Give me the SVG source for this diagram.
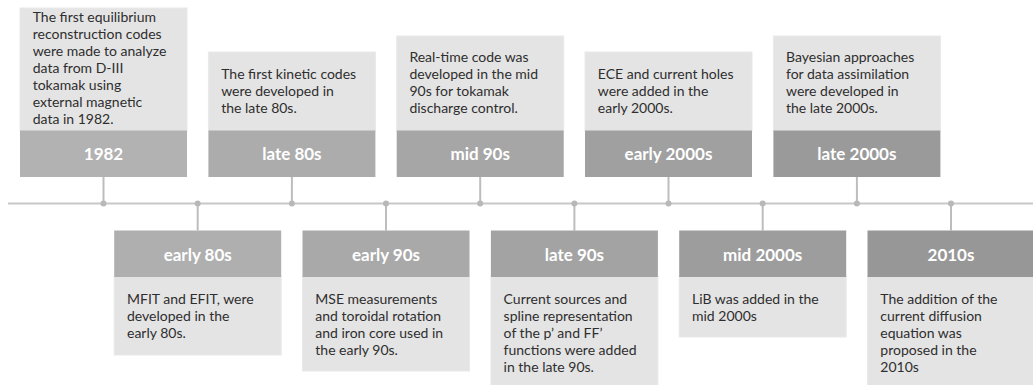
<svg xmlns="http://www.w3.org/2000/svg" width="1033" height="385" viewBox="0 0 1033 385">
  <style>
    .body { fill: #e4e4e4; stroke: #e9e9e9; stroke-width: 1; }
    .head { stroke: none; }
    .t { font-family: Lato, "Open Sans", "Liberation Sans", sans-serif; font-size: 14px; fill: #2e2e2e; }
    .h { font-family: Lato, "Open Sans", "Liberation Sans", sans-serif; font-size: 17px; font-weight: bold; fill: #ffffff; text-anchor: middle; }
    .axis { stroke: #c8c8c8; stroke-width: 2; fill: none; }
    .stub { stroke: #bdbdbd; stroke-width: 2; fill: none; }
    .dot { fill: #b8b8b8; }
  </style>

  <!-- timeline axis, dots and stubs -->
  <g id="connectors">
    <line class="axis" x1="8" y1="203.5" x2="1033" y2="203.5"/>
    <line class="stub" x1="103.5" y1="177" x2="103.5" y2="203.5"/>
    <line class="stub" x1="197.7" y1="203.5" x2="197.7" y2="230.5"/>
    <line class="stub" x1="291.9" y1="177" x2="291.9" y2="203.5"/>
    <line class="stub" x1="386" y1="203.5" x2="386" y2="230.5"/>
    <line class="stub" x1="480.2" y1="177" x2="480.2" y2="203.5"/>
    <line class="stub" x1="574.4" y1="203.5" x2="574.4" y2="230.5"/>
    <line class="stub" x1="668.5" y1="177" x2="668.5" y2="203.5"/>
    <line class="stub" x1="762.7" y1="203.5" x2="762.7" y2="230.5"/>
    <line class="stub" x1="856.9" y1="177" x2="856.9" y2="203.5"/>
    <line class="stub" x1="951" y1="203.5" x2="951" y2="230.5"/>
    <circle class="dot" cx="103.5" cy="203.5" r="3"/>
    <circle class="dot" cx="197.7" cy="203.5" r="3"/>
    <circle class="dot" cx="291.9" cy="203.5" r="3"/>
    <circle class="dot" cx="386" cy="203.5" r="3"/>
    <circle class="dot" cx="480.2" cy="203.5" r="3"/>
    <circle class="dot" cx="574.4" cy="203.5" r="3"/>
    <circle class="dot" cx="668.5" cy="203.5" r="3"/>
    <circle class="dot" cx="762.7" cy="203.5" r="3"/>
    <circle class="dot" cx="856.9" cy="203.5" r="3"/>
    <circle class="dot" cx="951" cy="203.5" r="3"/>
  </g>

  <!-- events above the axis -->
  <g id="n1982">
    <rect class="body" x="20" y="8" width="167" height="123"/>
    <rect class="head" x="20" y="130.5" width="167" height="46.5" fill="#b2b2b2"/>
    <text class="t">
      <tspan x="32.7" y="22">The first equilibrium</tspan>
      <tspan x="32.7" y="39">reconstruction codes</tspan>
      <tspan x="32.7" y="56">were made to analyze</tspan>
      <tspan x="32.7" y="73">data from D-III</tspan>
      <tspan x="32.7" y="90">tokamak using</tspan>
      <tspan x="32.7" y="107">external magnetic</tspan>
      <tspan x="32.7" y="124">data in 1982.</tspan>
    </text>
    <text class="h" x="103.5" y="159.5">1982</text>
  </g>

  <g id="late80s">
    <rect class="body" x="208.4" y="52" width="167" height="79"/>
    <rect class="head" x="208.4" y="130.5" width="167" height="46.5" fill="#acacac"/>
    <text class="t">
      <tspan x="221.2" y="79">The first kinetic codes</tspan>
      <tspan x="221.2" y="96">were developed in</tspan>
      <tspan x="221.2" y="113">the late 80s.</tspan>
    </text>
    <text class="h" x="291.9" y="159.5">late 80s</text>
  </g>

  <g id="mid90s">
    <rect class="body" x="396.7" y="36" width="167" height="95"/>
    <rect class="head" x="396.7" y="130.5" width="167" height="46.5" fill="#a6a6a6"/>
    <text class="t">
      <tspan x="409.4" y="62.3">Real-time code was</tspan>
      <tspan x="409.4" y="79.3">developed in the mid</tspan>
      <tspan x="409.4" y="96.3">90s for tokamak</tspan>
      <tspan x="409.4" y="113.3">discharge control.</tspan>
    </text>
    <text class="h" x="480.2" y="159.5">mid 90s</text>
  </g>

  <g id="early2000s">
    <rect class="body" x="585" y="52" width="167" height="79"/>
    <rect class="head" x="585" y="130.5" width="167" height="46.5" fill="#a0a0a0"/>
    <text class="t">
      <tspan x="597.8" y="79">ECE and current holes</tspan>
      <tspan x="597.8" y="96">were added in the</tspan>
      <tspan x="597.8" y="113">early 2000s.</tspan>
    </text>
    <text class="h" x="668.5" y="159.5">early 2000s</text>
  </g>

  <g id="late2000s">
    <rect class="body" x="773.4" y="36" width="167" height="95"/>
    <rect class="head" x="773.4" y="130.5" width="167" height="46.5" fill="#9a9a9a"/>
    <text class="t">
      <tspan x="786" y="62.3">Bayesian approaches</tspan>
      <tspan x="786" y="79.3">for data assimilation</tspan>
      <tspan x="786" y="96.3">were developed in</tspan>
      <tspan x="786" y="113.3">the late 2000s.</tspan>
    </text>
    <text class="h" x="856.9" y="159.5">late 2000s</text>
  </g>

  <!-- events below the axis -->
  <g id="early80s">
    <rect class="body" x="114.2" y="276.5" width="167" height="78.5"/>
    <rect class="head" x="114.2" y="230.5" width="167" height="46.5" fill="#afafaf"/>
    <text class="t">
      <tspan x="127" y="304.3">MFIT and EFIT, were</tspan>
      <tspan x="127" y="321.1">developed in the</tspan>
      <tspan x="127" y="337.9">early 80s.</tspan>
    </text>
    <text class="h" x="197.7" y="260.5">early 80s</text>
  </g>

  <g id="early90s">
    <rect class="body" x="302.5" y="276.5" width="167" height="94.5"/>
    <rect class="head" x="302.5" y="230.5" width="167" height="46.5" fill="#a9a9a9"/>
    <text class="t">
      <tspan x="315.3" y="304.3">MSE measurements</tspan>
      <tspan x="315.3" y="321.1">and toroidal rotation</tspan>
      <tspan x="315.3" y="337.9">and iron core used in</tspan>
      <tspan x="315.3" y="354.7">the early 90s.</tspan>
    </text>
    <text class="h" x="386" y="260.5">early 90s</text>
  </g>

  <g id="late90s">
    <rect class="body" x="490.9" y="276.5" width="167" height="115"/>
    <rect class="head" x="490.9" y="230.5" width="167" height="46.5" fill="#a3a3a3"/>
    <text class="t">
      <tspan x="503.6" y="304.3">Current sources and</tspan>
      <tspan x="503.6" y="321.1">spline representation</tspan>
      <tspan x="503.6" y="337.9">of the p’ and FF’</tspan>
      <tspan x="503.6" y="354.7">functions were added</tspan>
      <tspan x="503.6" y="371.5">in the late 90s.</tspan>
    </text>
    <text class="h" x="574.4" y="260.5">late 90s</text>
  </g>

  <g id="mid2000s">
    <rect class="body" x="679.2" y="276.5" width="167" height="60.5"/>
    <rect class="head" x="679.2" y="230.5" width="167" height="46.5" fill="#9d9d9d"/>
    <text class="t">
      <tspan x="692" y="304.3">LiB was added in the</tspan>
      <tspan x="692" y="321.1">mid 2000s</tspan>
    </text>
    <text class="h" x="762.7" y="260.5">mid 2000s</text>
  </g>

  <g id="n2010s">
    <rect class="body" x="867.5" y="276.5" width="167" height="115"/>
    <rect class="head" x="867.5" y="230.5" width="167" height="46.5" fill="#979797"/>
    <text class="t">
      <tspan x="880.3" y="304.3">The addition of the</tspan>
      <tspan x="880.3" y="321.1">current diffusion</tspan>
      <tspan x="880.3" y="337.9">equation was</tspan>
      <tspan x="880.3" y="354.7">proposed in the</tspan>
      <tspan x="880.3" y="371.5">2010s</tspan>
    </text>
    <text class="h" x="951" y="260.5">2010s</text>
  </g>
</svg>
